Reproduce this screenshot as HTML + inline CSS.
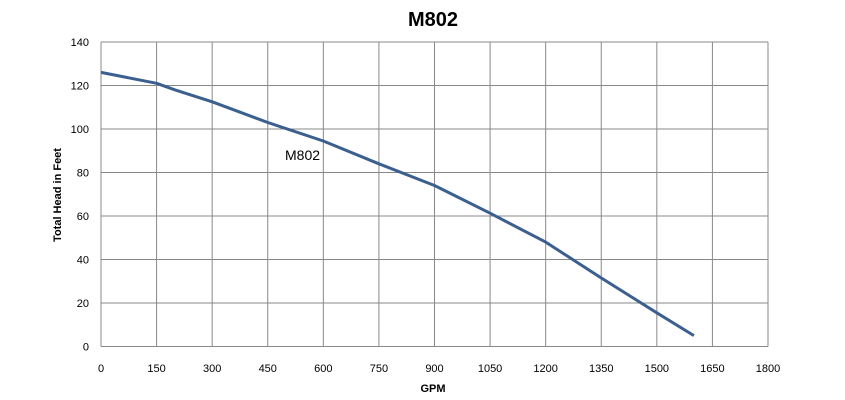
<!DOCTYPE html>
<html><head><meta charset="utf-8"><style>
body{margin:0;background:#fff;}
svg{display:block;font-family:"Liberation Sans",sans-serif;}
</style></head><body>
<svg id="c" width="845" height="400"></svg>
<script>
const xTicks=[0,150,300,450,600,750,900,1050,1200,1350,1500,1650,1800];
const yTicks=[0,20,40,60,80,100,120,140];
const gpm=[0,150,200,300,450,600,750,900,1050,1200,1350,1500,1600];
const head=[126,121,118,112.5,103,94.5,84,74,61.3,48,31.5,15.5,5];
const L=101,R=768,T=42,B=346.5;
const xs=v=>L+(v-0)/1800*(R-L);
const ys=v=>B-v/140*(B-T);
const svg=document.getElementById('c');
const NS='http://www.w3.org/2000/svg';
function mk(t,a,txt){const e=document.createElementNS(NS,t);for(const k in a)e.setAttribute(k,a[k]);if(txt!==undefined)e.textContent=txt;svg.appendChild(e);return e;}
let e=mk('text',{x:433,y:26,'text-anchor':'middle','font-size':20,'font-weight':'bold',fill:'#000'},'M802');


yTicks.forEach(v=>{
 let l=mk('line',{x1:L,x2:R,y1:ys(v),y2:ys(v),stroke:'#888','stroke-width':1});
 
 
 let t=mk('text',{x:89,y:ys(v)+4,'text-anchor':'end','font-size':11,fill:'#000'},String(v));
 
 
});
xTicks.forEach(v=>{
 let l=mk('line',{x1:xs(v),x2:xs(v),y1:T,y2:B,stroke:'#888','stroke-width':1});
 
 
 let t=mk('text',{x:xs(v),y:372,'text-anchor':'middle','font-size':11,fill:'#000'},String(v));
 
 
});
e=mk('text',{x:433,y:392,'text-anchor':'middle','font-size':11,'font-weight':'bold',fill:'#000'},'GPM');


e=mk('text',{x:0,y:0,transform:'translate(61,195) rotate(-90)','text-anchor':'middle','font-size':11,'font-weight':'bold',fill:'#000'},'Total Head in Feet');


let d='';
gpm.forEach((g,i)=>{d+=(i?'L':'M')+xs(g).toFixed(1)+' '+ys(head[i]).toFixed(1);});
e=mk('path',{d:d,fill:'none',stroke:'#3b5f8f','stroke-width':3,'stroke-linejoin':'round'});


e=mk('text',{x:285,y:160,'font-size':14,fill:'#000'},'M802');


</script>
</body></html>
